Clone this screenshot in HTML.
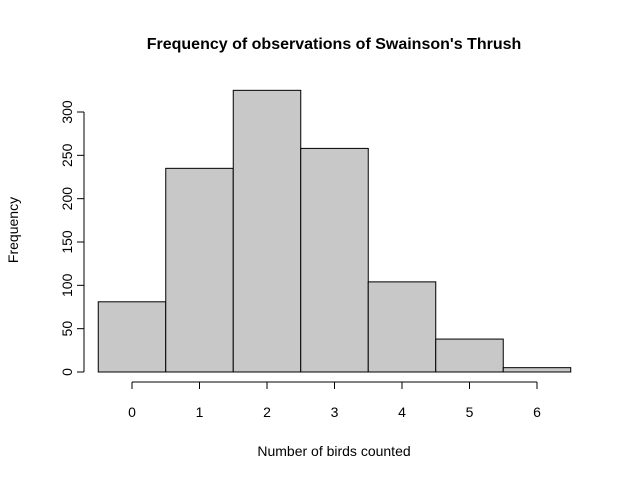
<!DOCTYPE html>
<html><head><meta charset="utf-8"><style>
html,body{margin:0;padding:0;background:#fff;}
svg{display:block;font-family:"Liberation Sans",Arial,sans-serif;}
</style></head><body>
<svg id="chart" width="631" height="481" viewBox="0 0 631 481">
<text x="334" y="49" text-anchor="middle" font-size="16" font-weight="bold">Frequency of observations of Swainson's Thrush</text>
<text x="334" y="456" text-anchor="middle" font-size="14">Number of birds counted</text>
<text transform="translate(18,230) rotate(-90)" text-anchor="middle" font-size="14">Frequency</text>
<g id="bars"></g>
<g id="xaxis"></g>
<g id="yaxis"></g>
</svg>
<script>
const binStarts = [-0.5,0.5,1.5,2.5,3.5,4.5,5.5];
const counts = [81,235,325,258,104,38,5];
const xTicks = [0,1,2,3,4,5,6];
const yTicks = [0,50,100,150,200,250,300];
const NS="http://www.w3.org/2000/svg";
const xs=v=>132+v*67.5;
const ys=v=>372-v*(260/300);
function mk(tag,attrs,parent){const e=document.createElementNS(NS,tag);for(const k in attrs)e.setAttribute(k,attrs[k]);parent.appendChild(e);return e;}
const bars=document.getElementById('bars');
binStarts.forEach((b,i)=>{
  const r=mk('rect',{x:xs(b),y:ys(counts[i]),width:xs(b+1)-xs(b),height:ys(0)-ys(counts[i]),fill:'#c8c8c8',stroke:'#000','stroke-width':1},bars);
  
  
});
const xa=document.getElementById('xaxis');
mk('line',{x1:xs(xTicks[0]),x2:xs(xTicks[xTicks.length-1]),y1:382,y2:382,stroke:'#000'},xa);
xTicks.forEach(t=>{
  mk('line',{x1:xs(t),x2:xs(t),y1:382,y2:389,stroke:'#000'},xa);
  const tx=mk('text',{x:xs(t),y:417,'text-anchor':'middle','font-size':14},xa);
  tx.textContent=t;
  
  
});
const ya=document.getElementById('yaxis');
mk('line',{x1:84,x2:84,y1:ys(yTicks[0]),y2:ys(yTicks[yTicks.length-1]),stroke:'#000'},ya);
yTicks.forEach(t=>{
  mk('line',{x1:77,x2:84,y1:ys(t),y2:ys(t),stroke:'#000'},ya);
  const tx=mk('text',{transform:`translate(72,${ys(t)}) rotate(-90)`,'text-anchor':'middle','font-size':14},ya);
  tx.textContent=t;
  
  
});
</script>
</body></html>
